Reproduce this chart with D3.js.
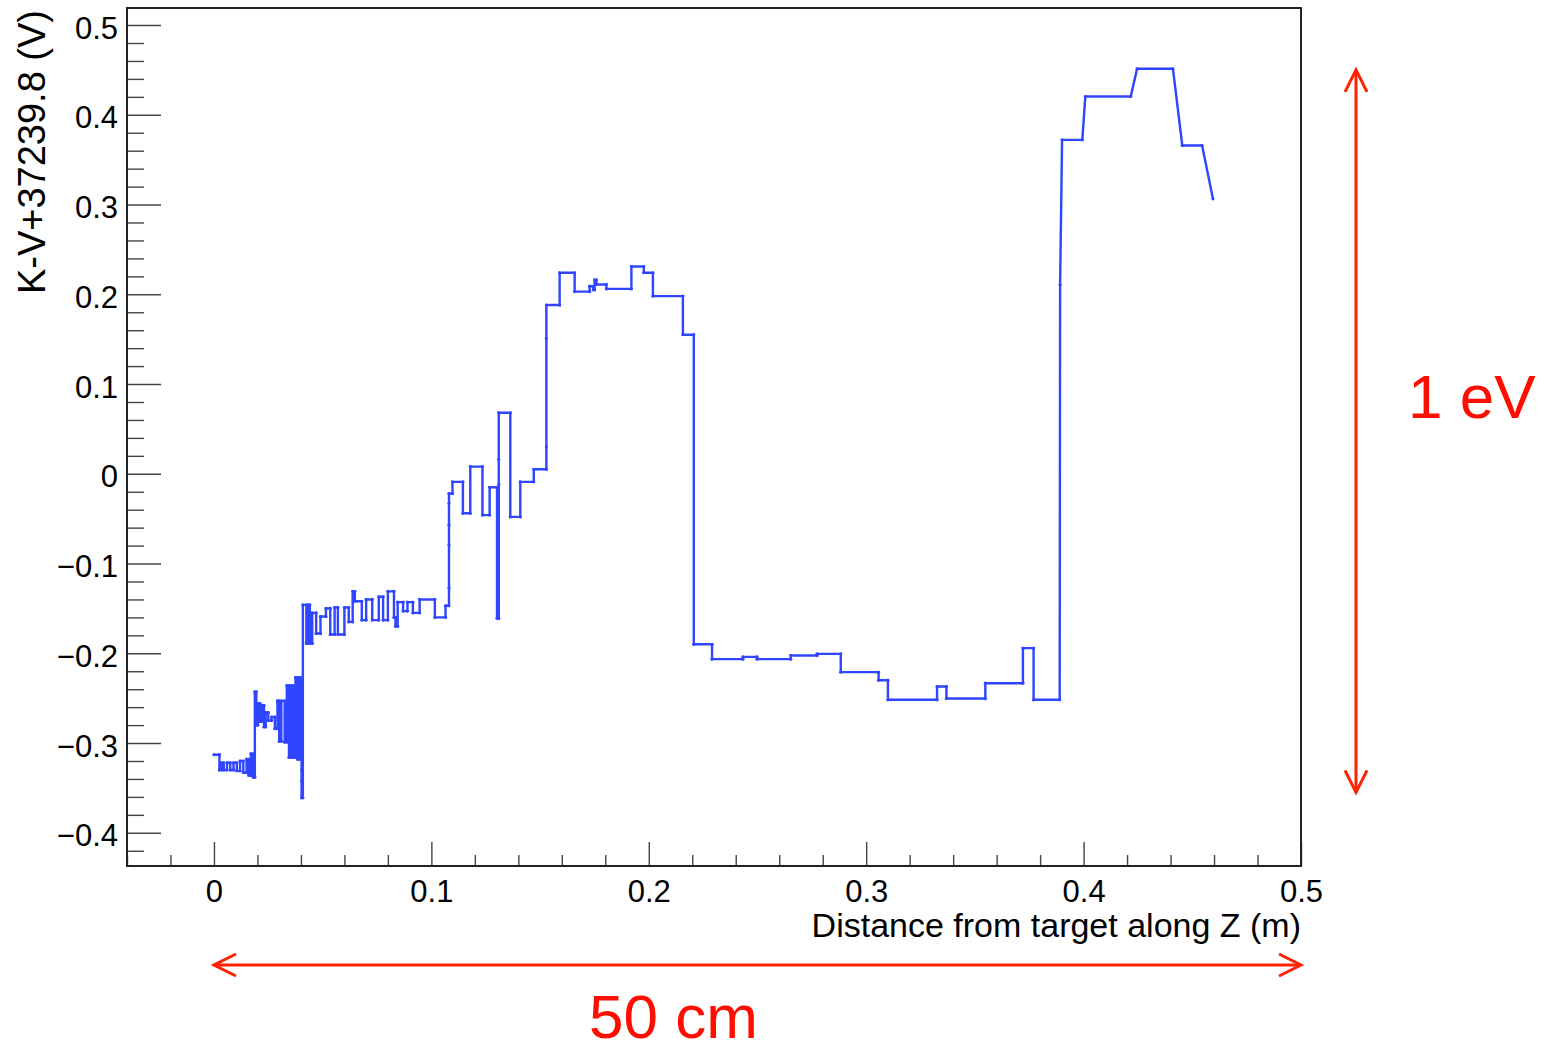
<!DOCTYPE html>
<html><head><meta charset="utf-8">
<script src="https://cdn.jsdelivr.net/npm/d3@7"></script>
<style>html,body{margin:0;padding:0;background:#fff;} svg{display:block;}</style>
</head><body>
<svg id="chart" width="1554" height="1045"></svg>
<script>
// ---- data: distance from target along Z (m), K-V+37239.8 (V)
const trace = [
 [0.0000,-0.313],[0.0025,-0.313],[0.0025,-0.330],[0.0035,-0.330],[0.0035,-0.322],[0.0045,-0.322],[0.0045,-0.330],[0.0060,-0.330],[0.0060,-0.322],[0.0075,-0.322],[0.0075,-0.330],[0.0090,-0.330],[0.0090,-0.322],[0.0105,-0.322],[0.0105,-0.331],[0.0120,-0.331],[0.0120,-0.320],[0.0135,-0.320],[0.0135,-0.333],[0.0150,-0.333],[0.0150,-0.318],[0.0160,-0.318],[0.0160,-0.336],[0.0170,-0.336],[0.0170,-0.312],[0.0180,-0.312],[0.0180,-0.338],[0.0188,-0.338],[0.0188,-0.243],
 [0.0195,-0.243],[0.0195,-0.280],[0.0202,-0.280],[0.0202,-0.256],[0.0212,-0.256],[0.0212,-0.276],[0.0220,-0.276],[0.0220,-0.258],[0.0230,-0.258],[0.0230,-0.282],[0.0238,-0.282],[0.0238,-0.266],[0.0250,-0.266],[0.0250,-0.275],[0.0265,-0.275],[0.0265,-0.271],[0.0280,-0.271],[0.0280,-0.284],[0.0292,-0.284],[0.0292,-0.253],
 [0.0300,-0.253],[0.0300,-0.298],[0.0310,-0.298],[0.0310,-0.253],[0.0325,-0.253],[0.0325,-0.299],[0.0335,-0.299],[0.0335,-0.236],[0.0345,-0.236],[0.0345,-0.316],[0.0355,-0.316],[0.0355,-0.236],[0.0365,-0.236],[0.0365,-0.316],[0.0375,-0.316],[0.0375,-0.227],[0.0385,-0.227],[0.0385,-0.318],[0.0393,-0.318],[0.0393,-0.227],[0.0403,-0.227],[0.0403,-0.330],[0.0403,-0.342],[0.0403,-0.361],[0.0409,-0.361],[0.0409,-0.146],
 [0.0425,-0.146],[0.0425,-0.189],[0.0433,-0.189],[0.0433,-0.146],[0.0441,-0.146],[0.0441,-0.189],[0.0452,-0.189],[0.0452,-0.155],[0.0470,-0.155],[0.0470,-0.178],[0.0490,-0.178],[0.0490,-0.159],[0.0515,-0.159],[0.0515,-0.150],[0.0535,-0.150],[0.0535,-0.179],[0.0555,-0.179],[0.0555,-0.149],[0.0570,-0.149],[0.0570,-0.179],[0.0600,-0.179],[0.0600,-0.149],[0.0620,-0.149],[0.0620,-0.165],[0.0638,-0.165],[0.0638,-0.131],[0.0648,-0.131],[0.0648,-0.142],[0.0680,-0.142],[0.0680,-0.163],[0.0700,-0.163],[0.0700,-0.140],[0.0728,-0.140],[0.0728,-0.163],[0.0758,-0.163],[0.0758,-0.137],[0.0778,-0.137],[0.0778,-0.163],[0.0800,-0.163],[0.0800,-0.131],[0.0828,-0.131],[0.0828,-0.160],[0.0835,-0.160],[0.0835,-0.170],[0.0845,-0.170],[0.0845,-0.143],[0.0870,-0.143],[0.0870,-0.153],[0.0890,-0.153],[0.0890,-0.143],[0.0915,-0.143],[0.0915,-0.155],[0.0946,-0.155],[0.0946,-0.140],[0.1016,-0.140],[0.1016,-0.160],[0.1065,-0.160],[0.1065,-0.147],[0.1081,-0.147],
 [0.1081,-0.127],[0.1081,-0.079],[0.1081,-0.057],[0.1081,-0.033],[0.1081,-0.022],[0.1097,-0.022],[0.1097,-0.009],[0.1145,-0.009],[0.1145,-0.044],[0.1179,-0.044],[0.1179,0.008],[0.1235,0.008],[0.1235,-0.046],[0.1268,-0.046],[0.1268,-0.015],[0.1302,-0.015],[0.1302,-0.161],[0.1310,-0.161],[0.1310,-0.012],[0.1310,0.016],[0.1310,0.068],[0.1363,0.068],[0.1363,-0.048],[0.1409,-0.048],[0.1409,-0.009],[0.1471,-0.009],[0.1471,0.005],[0.1529,0.005],[0.1529,0.030],[0.1529,0.151],[0.1529,0.188],
 [0.1590,0.188],[0.1590,0.224],[0.1659,0.224],[0.1659,0.203],[0.1728,0.203],[0.1728,0.209],[0.1745,0.209],[0.1745,0.205],[0.1751,0.205],[0.1751,0.216],[0.1759,0.216],[0.1759,0.211],[0.1805,0.211],[0.1805,0.206],[0.1920,0.206],[0.1920,0.231],[0.1977,0.231],[0.1977,0.224],[0.2019,0.224],[0.2019,0.198],[0.2157,0.198],[0.2157,0.155],[0.2207,0.155],[0.2207,-0.190],
 [0.2291,-0.190],[0.2291,-0.2065],[0.2433,-0.2065],[0.2433,-0.204],[0.2498,-0.204],[0.2498,-0.2065],[0.2653,-0.2065],[0.2653,-0.2024],[0.2774,-0.2024],[0.2774,-0.2006],[0.2883,-0.2006],[0.2883,-0.221],[0.3057,-0.221],[0.3057,-0.230],[0.3100,-0.230],[0.3100,-0.2518],[0.3326,-0.2518],[0.3326,-0.237],[0.3369,-0.237],[0.3369,-0.2504],[0.3548,-0.2504],[0.3548,-0.2333],[0.3721,-0.2333],[0.3721,-0.1942],[0.3770,-0.1942],[0.3770,-0.2518],[0.3890,-0.2518],
 [0.3892,0.2106],[0.3901,0.3721],[0.3994,0.3721],[0.4008,0.4204],[0.4217,0.4204],[0.4246,0.4513],[0.4411,0.4513],[0.4454,0.3658],[0.4545,0.3658],[0.4595,0.3064]
];

const xMajorTicks = [0, 0.1, 0.2, 0.3, 0.4, 0.5];
const xMinorTicks = [-0.04,-0.02,0.02,0.04,0.06,0.08,0.12,0.14,0.16,0.18,0.22,0.24,0.26,0.28,0.32,0.34,0.36,0.38,0.42,0.44,0.46,0.48];
const xTickLabels = ["0","0.1","0.2","0.3","0.4","0.5"];
const yMajorTicks = [-0.4,-0.3,-0.2,-0.1,0,0.1,0.2,0.3,0.4,0.5];
const yMinorTicks = [-0.42,-0.38,-0.36,-0.34,-0.32,-0.28,-0.26,-0.24,-0.22,-0.18,-0.16,-0.14,-0.12,-0.08,-0.06,-0.04,-0.02,0.02,0.04,0.06,0.08,0.12,0.14,0.16,0.18,0.22,0.24,0.26,0.28,0.32,0.34,0.36,0.38,0.42,0.44,0.46,0.48];
const yTickLabels = ["\u22120.4","\u22120.3","\u22120.2","\u22120.1","0","0.1","0.2","0.3","0.4","0.5"];
const xDomain = [-0.04, 0.5];
const yDomain = [-0.437, 0.519];
const xTitle = "Distance from target along Z (m)";
const yTitle = "K-V+37239.8 (V)";
// annotations: span arrows in data units
const xSpan = [0, 0.5];
const ySpan = [-0.355, 0.45];
const xSpanLabel = "50 cm";
const ySpanLabel = "1 eV";

// ---- layout
const svg = d3.select("#chart");
const L = 127, R = 1301, T = 8, B = 866;
const x = d3.scaleLinear().domain(xDomain).range([L, R]);
const y = d3.scaleLinear().domain(yDomain).range([B, T]);
const font = "'Liberation Sans', Arial, Helvetica, sans-serif";
const tickColor = "#444";

// minor ticks
svg.append("g").attr("transform", `translate(0,${B})`)
  .call(d3.axisBottom(x).tickValues(xMinorTicks).tickSize(-11).tickFormat(""))
  .call(g => g.select(".domain").remove())
  .call(g => g.selectAll("line").attr("stroke", tickColor).attr("stroke-width", 1.4));
svg.append("g").attr("transform", `translate(${L},0)`)
  .call(d3.axisLeft(y).tickValues(yMinorTicks).tickSize(-17).tickFormat(""))
  .call(g => g.select(".domain").remove())
  .call(g => g.selectAll("line").attr("stroke", tickColor).attr("stroke-width", 1.4));

// major ticks + labels
svg.append("g").attr("transform", `translate(0,${B})`)
  .call(d3.axisBottom(x).tickValues(xMajorTicks).tickSize(-24).tickPadding(14)
        .tickFormat((d,i) => xTickLabels[i]))
  .call(g => g.select(".domain").remove())
  .call(g => g.selectAll("line").attr("stroke", tickColor).attr("stroke-width", 1.4))
  .call(g => g.selectAll("text").attr("font-family", font).attr("font-size", 31).attr("fill", "#000"));
svg.append("g").attr("transform", `translate(${L},0)`)
  .call(d3.axisLeft(y).tickValues(yMajorTicks).tickSize(-34).tickPadding(9)
        .tickFormat((d,i) => yTickLabels[i]))
  .call(g => g.select(".domain").remove())
  .call(g => g.selectAll("line").attr("stroke", tickColor).attr("stroke-width", 1.4))
  .call(g => g.selectAll("text").attr("font-family", font).attr("font-size", 31).attr("fill", "#000").attr("dy", "0.42em"));

// frame
svg.append("rect").attr("x", L).attr("y", T).attr("width", R - L).attr("height", B - T)
  .attr("fill", "none").attr("stroke", "#222").attr("stroke-width", 2);

// titles
svg.append("text").attr("x", R).attr("y", 937).attr("text-anchor", "end")
  .attr("font-family", font).attr("font-size", 34).attr("fill", "#000").text(xTitle);
svg.append("text").attr("transform", "translate(45,10) rotate(-90)").attr("text-anchor", "end")
  .attr("font-family", font).attr("font-size", 38).attr("fill", "#000").text(yTitle);

// data line
const blue = "#2f45ff";
svg.append("path").datum(trace)
  .attr("d", d3.line().x(d => x(d[0])).y(d => y(d[1])))
  .attr("fill", "none").attr("stroke", blue).attr("stroke-width", 2.4).attr("stroke-linejoin", "miter");
svg.append("g").selectAll("circle").data(trace).join("circle")
  .attr("cx", d => x(d[0])).attr("cy", d => y(d[1])).attr("r", 1.6).attr("fill", blue);

// red annotations
const red = "#ff2200";
const ax = 1356, ay = 965, head = 22, half = 11;
// vertical arrow
svg.append("line").attr("x1", ax).attr("x2", ax).attr("y1", y(ySpan[1])).attr("y2", y(ySpan[0]))
  .attr("stroke", red).attr("stroke-width", 3);
svg.append("path").attr("d", `M${ax-half},${y(ySpan[1])+head}L${ax},${y(ySpan[1])}L${ax+half},${y(ySpan[1])+head}`)
  .attr("fill", "none").attr("stroke", red).attr("stroke-width", 3);
svg.append("path").attr("d", `M${ax-half},${y(ySpan[0])-head}L${ax},${y(ySpan[0])}L${ax+half},${y(ySpan[0])-head}`)
  .attr("fill", "none").attr("stroke", red).attr("stroke-width", 3);
// horizontal arrow
svg.append("line").attr("x1", x(xSpan[0])).attr("x2", x(xSpan[1])).attr("y1", ay).attr("y2", ay)
  .attr("stroke", red).attr("stroke-width", 3);
svg.append("path").attr("d", `M${x(xSpan[0])+head},${ay-half}L${x(xSpan[0])},${ay}L${x(xSpan[0])+head},${ay+half}`)
  .attr("fill", "none").attr("stroke", red).attr("stroke-width", 3);
svg.append("path").attr("d", `M${x(xSpan[1])-head},${ay-half}L${x(xSpan[1])},${ay}L${x(xSpan[1])-head},${ay+half}`)
  .attr("fill", "none").attr("stroke", red).attr("stroke-width", 3);
svg.append("text").attr("x", 1408).attr("y", 418).attr("font-family", font).attr("font-size", 62)
  .attr("fill", "#ff0d00").text(ySpanLabel);
svg.append("text").attr("x", 589).attr("y", 1038).attr("font-family", font).attr("font-size", 62)
  .attr("fill", "#ff0d00").text(xSpanLabel);
</script>
</body></html>
